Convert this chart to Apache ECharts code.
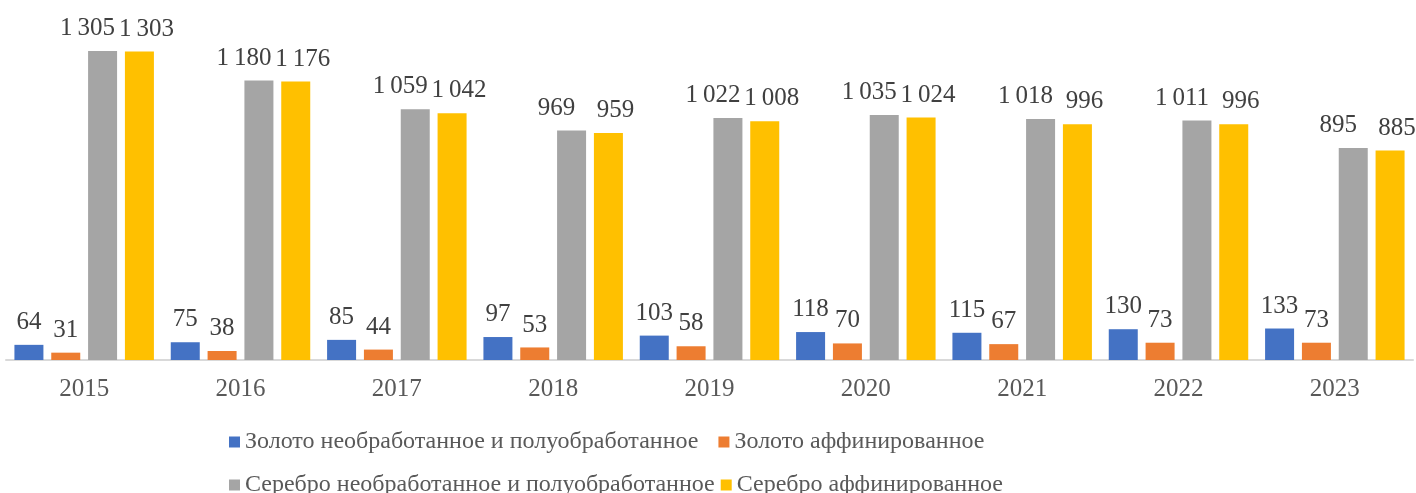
<!DOCTYPE html>
<html>
<head>
<meta charset="utf-8">
<script src="https://cdn.jsdelivr.net/npm/echarts@6/dist/echarts.min.js"></script>
<style>
  html, body { margin: 0; padding: 0; background: #fff; }
  #chart { width: 1416px; height: 493px; }
</style>
</head>
<body>
<div id="chart"></div>
<script>
var years = ['2015', '2016', '2017', '2018', '2019', '2020', '2021', '2022', '2023'];
var names = [
  'Золото необработанное и полуобработанное',
  'Золото аффинированное',
  'Серебро необработанное и полуобработанное',
  'Серебро аффинированное'
];
var goldRaw = [64, 75, 85, 97, 103, 118, 115, 130, 133];
var goldRefined = [31, 38, 44, 53, 58, 70, 67, 73, 73];
var silverRaw = [1305, 1180, 1059, 969, 1022, 1035, 1018, 1011, 895];
var silverRefined = [1303, 1176, 1042, 959, 1008, 1024, 996, 996, 885];
var colors = ['#4472C4', '#ED7D31', '#A5A5A5', '#FFC000'];

function fmt(p) {
  // thousands split by a thin space
  return String(p.value).replace(/\B(?=(\d{3})+(?!\d))/g, '\u2009');
}

var myChart = echarts.init(document.getElementById('chart'));
var font = '"Liberation Serif", "Times New Roman", serif';

// labels over the two silver bars are pushed apart, like in the original
var shift = [0, 0, -15, 7];

function bar(i, data) {
  return {
    name: names[i],
    type: 'bar',
    data: data,
    barWidth: 29,
    barGap: '27%',
    itemStyle: { color: colors[i] },
    label: {
      show: true,
      position: 'top',
      distance: 10,
      offset: [shift[i], 0],
      formatter: fmt,
      color: '#404040',
      fontFamily: font,
      fontSize: 25
    }
  };
}

var legendText = { color: '#595959', fontFamily: font, fontSize: 24 };

var option = {
  animation: false,
  color: colors,
  grid: { left: 6, right: 3, top: 28.5, bottom: 133 },
  legend: [
    {
      data: names.slice(0, 2),
      left: 224, top: 425,
      icon: 'rect', itemWidth: 11, itemHeight: 11, itemGap: 20,
      textStyle: legendText
    },
    {
      data: names.slice(2, 4),
      left: 224, top: 468,
      icon: 'rect', itemWidth: 11, itemHeight: 11, itemGap: 6,
      textStyle: legendText
    }
  ],
  xAxis: {
    type: 'category',
    data: years,
    axisLine: { lineStyle: { color: '#d9d9d9', width: 2 } },
    axisTick: { show: false },
    axisLabel: { color: '#595959', fontFamily: font, fontSize: 25, margin: 17 }
  },
  yAxis: {
    type: 'value',
    min: 0,
    max: 1400,
    show: false,
    splitLine: { show: false }
  },
  series: [
    bar(0, goldRaw),
    bar(1, goldRefined),
    bar(2, silverRaw),
    bar(3, silverRefined)
  ]
};
option && myChart.setOption(option);
</script>
</body>
</html>
